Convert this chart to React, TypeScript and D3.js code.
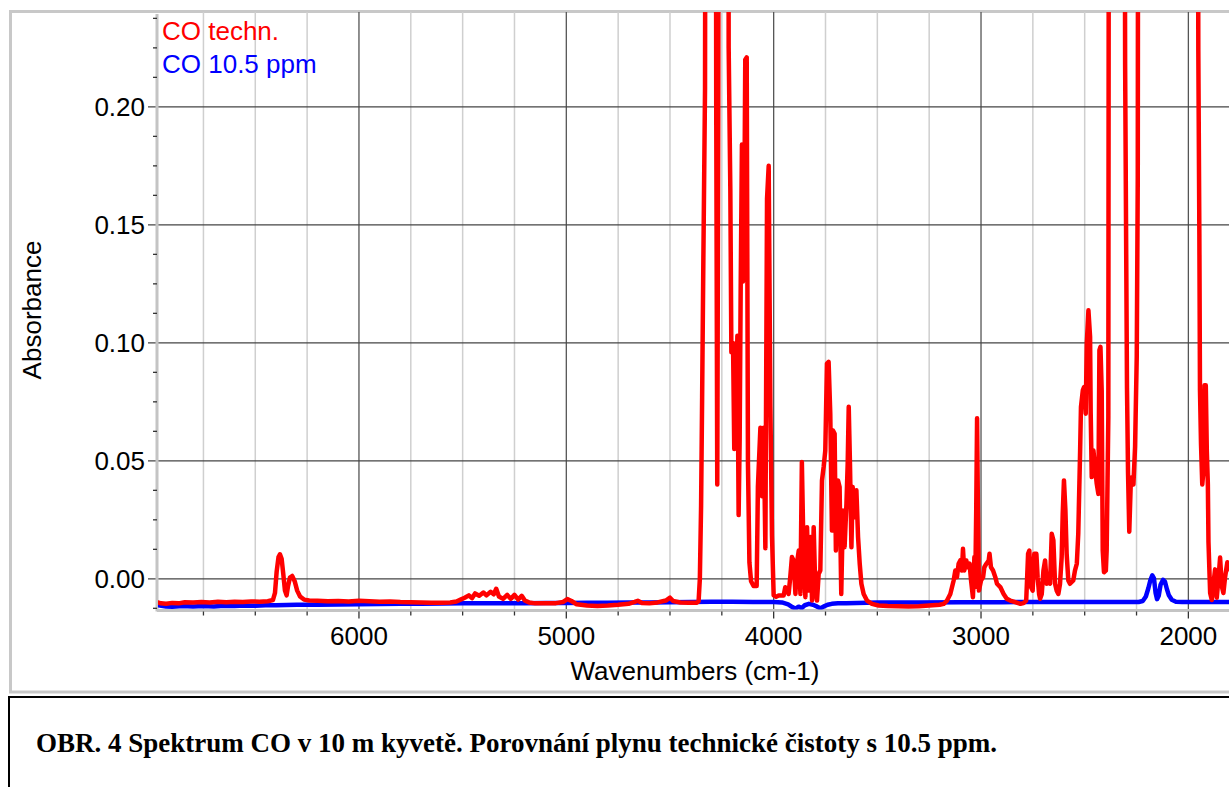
import React from 'react';
import * as d3 from 'd3';

const W = 1229;
const H = 787;

// axis ticks / labels
const xMajorTicks = [6000, 5000, 4000, 3000, 2000];
const xTickLabels = ['6000', '5000', '4000', '3000', '2000'];
const yMajorTicks = [0, 0.05, 0.1, 0.15, 0.2];
const yTickLabels = ['0.00', '0.05', '0.10', '0.15', '0.20'];
const xDomain = [6974, 1751];
const yDomain = [-0.013, 0.2402];
const legendLabels = ['CO techn.', 'CO 10.5 ppm'];
const seriesColors = ['#ff0000', '#0000ff'];
const xTitle = 'Wavenumbers (cm-1)';
const yTitle = 'Absorbance';
const caption = 'OBR. 4 Spektrum CO v 10 m kyvetě. Porovnání plynu technické čistoty s 10.5 ppm.';

// series: [wavenumber, absorbance]
const coTechn: [number, number][] = [
  [6970, -0.0100], [6955, -0.0104], [6930, -0.0106], [6900, -0.0102], [6870, -0.0104], [6840, -0.0099],
  [6800, -0.0100], [6760, -0.0098], [6720, -0.0100], [6680, -0.0097], [6640, -0.0099], [6600, -0.0097],
  [6560, -0.0098], [6520, -0.0096], [6480, -0.0097], [6440, -0.0095], [6415, -0.0090], [6405, -0.0060],
  [6397, 0.0030], [6388, 0.0092], [6381, 0.0104], [6373, 0.0085], [6365, 0.0020], [6357, -0.0050],
  [6349, -0.0070], [6342, -0.0030], [6333, 0.0005], [6322, 0.0012], [6310, -0.0010], [6298, -0.0050],
  [6284, -0.0075], [6265, -0.0088], [6240, -0.0092], [6200, -0.0093], [6150, -0.0095], [6100, -0.0094],
  [6050, -0.0096], [6000, -0.0093], [5950, -0.0095], [5900, -0.0097], [5850, -0.0096], [5800, -0.0098],
  [5750, -0.0099], [5700, -0.0100], [5650, -0.0101], [5600, -0.0101], [5560, -0.0100], [5530, -0.0096],
  [5510, -0.0088], [5490, -0.0080], [5470, -0.0070], [5455, -0.0082], [5440, -0.0062], [5420, -0.0072],
  [5400, -0.0058], [5385, -0.0070], [5365, -0.0055], [5350, -0.0066], [5338, -0.0042], [5325, -0.0075],
  [5305, -0.0085], [5285, -0.0068], [5268, -0.0085], [5250, -0.0068], [5232, -0.0088], [5215, -0.0072],
  [5200, -0.0092], [5180, -0.0100], [5150, -0.0104], [5100, -0.0104], [5050, -0.0103], [5015, -0.0098],
  [4995, -0.0086], [4975, -0.0094], [4950, -0.0108], [4900, -0.0113], [4850, -0.0115], [4800, -0.0113],
  [4750, -0.0110], [4700, -0.0106], [4670, -0.0098], [4655, -0.0093], [4635, -0.0102], [4600, -0.0104],
  [4560, -0.0100], [4520, -0.0092], [4500, -0.0080], [4485, -0.0094], [4450, -0.0100], [4410, -0.0101],
  [4370, -0.0101], [4362, -0.0095], [4356, 0.0000], [4350, 0.031], [4345, 0.077], [4339, 0.136],
  [4331, 0.208], [4325, 0.60], [4282, 0.60], [4277, 0.20], [4272, 0.040], [4267, 0.20], [4262, 0.60],
  [4222, 0.60], [4217, 0.225], [4209, 0.165], [4204, 0.096], [4196, 0.100], [4190, 0.055], [4182, 0.070],
  [4175, 0.103], [4169, 0.027], [4164, 0.059], [4159, 0.124], [4153, 0.184], [4148, 0.126], [4142, 0.150],
  [4137, 0.220], [4130, 0.221], [4124, 0.049], [4117, 0.007], [4109, -0.001], [4097, -0.003], [4082, -0.003],
  [4076, 0.039], [4064, 0.064], [4056, 0.035], [4048, 0.064], [4040, 0.013], [4032, 0.161], [4024, 0.175],
  [4016, 0.074], [4008, 0.018], [4000, -0.007], [3988, -0.0076], [3976, -0.0071], [3952, -0.0071],
  [3944, -0.0036], [3928, -0.0064], [3920, 0.0007], [3912, 0.0092], [3904, 0.0078], [3895, -0.0064],
  [3888, 0.0064], [3879, 0.0120], [3871, -0.0064], [3864, 0.0495], [3855, 0.0064], [3847, -0.0078],
  [3839, 0.0219], [3831, -0.0050], [3823, 0.0177], [3815, -0.0092], [3807, 0.0219], [3799, -0.0050],
  [3791, -0.0092], [3783, 0.0021], [3775, 0.0035], [3767, 0.0417], [3759, 0.0474], [3751, 0.0544],
  [3743, 0.0912], [3735, 0.0919], [3727, 0.0700], [3719, 0.0205], [3714, 0.0629], [3706, 0.0615],
  [3700, 0.0120], [3690, 0.0417], [3682, 0.0389], [3674, -0.0064], [3666, 0.0290], [3658, 0.0134],
  [3649, 0.0318], [3643, 0.0488], [3638, 0.0729], [3632, 0.0488], [3625, 0.0134], [3619, 0.0389],
  [3609, 0.0261], [3601, 0.0375], [3593, 0.0177], [3585, 0.0064], [3577, -0.0021], [3566, -0.0064],
  [3550, -0.0092], [3526, -0.0106], [3494, -0.0113], [3450, -0.0115], [3400, -0.0116], [3350, -0.0117],
  [3300, -0.0116], [3250, -0.0113], [3200, -0.0110], [3180, -0.0106], [3164, -0.0092], [3148, -0.0064],
  [3132, -0.0007], [3124, 0.0035], [3116, 0.0007], [3108, 0.0064], [3100, 0.0078], [3092, 0.0035],
  [3087, 0.0127], [3081, 0.0035], [3071, 0.0078], [3065, 0.0049], [3055, 0.0064], [3048, -0.0007],
  [3039, -0.0078], [3032, 0.0092], [3028, -0.0035], [3023, 0.030], [3019, 0.068], [3015, 0.030],
  [3010, -0.005], [3000, -0.0007], [2990, 0.0007], [2984, 0.0049], [2974, 0.0064], [2963, 0.0078],
  [2959, 0.0106], [2952, 0.0049], [2942, 0.0035], [2931, 0.0007], [2923, -0.0021], [2907, -0.0035],
  [2891, -0.0064], [2875, -0.0085], [2859, -0.0092], [2835, -0.0099], [2810, -0.0106], [2795, -0.0103],
  [2782, -0.0092], [2773, 0.0106], [2767, 0.0120], [2759, -0.0035], [2751, -0.0050], [2743, 0.0106],
  [2733, 0.0106], [2727, 0.0007], [2720, -0.0064], [2715, -0.0085], [2707, -0.0064], [2699, 0.0035],
  [2691, 0.0078], [2683, -0.0021], [2675, 0.0007], [2667, -0.0021], [2659, 0.0191], [2651, 0.0163],
  [2643, -0.0021], [2635, -0.0050], [2627, -0.0064], [2619, -0.0021], [2611, 0.0092], [2606, 0.0276],
  [2600, 0.0417], [2593, 0.0290], [2587, 0.0106], [2579, -0.0007], [2571, -0.0021], [2555, -0.0007],
  [2547, 0.0035], [2538, 0.0064], [2531, 0.0191], [2522, 0.0544], [2518, 0.0728], [2509, 0.0799],
  [2503, 0.0813], [2495, 0.0700], [2490, 0.0997], [2482, 0.1138], [2474, 0.1025], [2471, 0.0700],
  [2466, 0.0431], [2458, 0.0544], [2450, 0.0474], [2442, 0.0403], [2434, 0.0360], [2429, 0.0969],
  [2424, 0.0983], [2418, 0.0799], [2413, 0.0120], [2407, 0.0028], [2398, 0.0035], [2394, 0.0120],
  [2386, 0.0686], [2381, 0.60], [2313, 0.60], [2305, 0.218], [2300, 0.141], [2296, 0.081], [2291, 0.045],
  [2285, 0.020], [2278, 0.040], [2272, 0.043], [2265, 0.040], [2257, 0.056], [2249, 0.094], [2244, 0.170],
  [2239, 0.60], [1960, 0.60], [1952, 0.224], [1947, 0.146], [1944, 0.080], [1939, 0.057], [1933, 0.040],
  [1928, 0.045], [1922, 0.082], [1916, 0.082], [1911, 0.054], [1906, 0.040], [1903, 0.0155], [1895, -0.006],
  [1887, -0.009], [1879, -0.002], [1871, 0.004], [1863, -0.008], [1855, 0.000], [1847, 0.009], [1839, -0.003],
  [1831, -0.006], [1823, 0.0007], [1812, 0.007], [1804, 0.0056], [1790, 0.002], [1775, -0.004], [1760, 0.001],
];

const co10ppm: [number, number][] = [
  [6970, -0.0112], [6930, -0.0117], [6900, -0.0118], [6850, -0.0115], [6800, -0.0117], [6750, -0.0115],
  [6700, -0.0117], [6650, -0.0114], [6600, -0.0115], [6550, -0.0113], [6500, -0.0114], [6450, -0.0112],
  [6400, -0.0112], [6350, -0.0111], [6300, -0.0110], [6200, -0.0110], [6100, -0.0109], [6000, -0.0108],
  [5900, -0.0107], [5800, -0.0106], [5700, -0.0106], [5600, -0.0105], [5500, -0.0104], [5400, -0.0104],
  [5300, -0.0103], [5200, -0.0103], [5100, -0.0102], [5000, -0.0102], [4900, -0.0101], [4800, -0.0101],
  [4700, -0.0100], [4600, -0.0100], [4500, -0.0099], [4400, -0.0098], [4300, -0.0097], [4200, -0.0097],
  [4100, -0.0098], [4000, -0.0098], [3960, -0.0100], [3930, -0.0108], [3910, -0.0120], [3895, -0.0126],
  [3880, -0.0118], [3865, -0.0124], [3850, -0.0112], [3830, -0.0106], [3810, -0.0110], [3790, -0.0118],
  [3775, -0.0125], [3760, -0.0118], [3740, -0.0110], [3720, -0.0106], [3690, -0.0104], [3650, -0.0103],
  [3600, -0.0102], [3550, -0.0101], [3500, -0.0100], [3300, -0.0100], [3100, -0.0099], [2900, -0.0099],
  [2700, -0.0098], [2500, -0.0098], [2300, -0.0098], [2240, -0.0098], [2220, -0.0094], [2205, -0.0075],
  [2193, -0.0040], [2183, -0.0005], [2174, 0.0015], [2166, 0.0002], [2158, -0.0060], [2151, -0.0086],
  [2143, -0.0072], [2134, -0.0025], [2122, -0.0004], [2113, -0.0012], [2104, -0.0042], [2094, -0.0070],
  [2080, -0.0089], [2060, -0.0097], [2030, -0.0098], [2000, -0.0098], [1900, -0.0098], [1800, -0.0098],
  [1755, -0.0098],
];

const PL = 157;
const PR = 1240;
const PT = 12;
const PB = 609.5;

const FONT = '"Liberation Sans", Arial, sans-serif';
const FS = 26;

export default function App() {
  const x = d3.scaleLinear().domain(xDomain).range([PL, PR]);
  const y = d3.scaleLinear().domain(yDomain).range([PB, PT]);
  const line = d3
    .line<[number, number]>()
    .x((d) => x(d[0]))
    .y((d) => y(d[1]));

  const xMinor = d3.range(6750, 1749, -250).filter((v) => v % 1000 !== 0);
  const yMinor = d3
    .range(-1, 20)
    .map((i) => +(i * 0.0125).toFixed(4))
    .filter((v) => Math.abs(v / 0.05 - Math.round(v / 0.05)) > 1e-6);

  return (
    <div style={{ position: 'absolute', left: 0, top: 0 }}>
      <svg width={W} height={H} style={{ display: 'block', background: '#ffffff' }}>
        <defs>
          <clipPath id="plotclip">
            <rect x={PL + 1} y={PT} width={PR - PL} height={PB - PT} />
          </clipPath>
        </defs>
        <rect x={0} y={0} width={W} height={H} fill="#ffffff" />
        {/* outer chart frame */}
        <rect x={10.5} y={11.5} width={1300} height={680.5} fill="none" stroke="#c8c8c8" strokeWidth={3} />

        {/* minor vertical grid */}
        {xMinor.map((v) => (
          <line key={'gm' + v} x1={x(v)} x2={x(v)} y1={PT} y2={PB} stroke="#cfcfcf" strokeWidth={1.5} />
        ))}
        {/* major vertical grid */}
        {xMajorTicks.map((v) => (
          <line key={'gM' + v} x1={x(v)} x2={x(v)} y1={PT} y2={PB} stroke="#555555" strokeWidth={1.3} />
        ))}
        {/* horizontal grid */}
        {yMajorTicks.map((v) => (
          <line key={'gy' + v} x1={PL - 9} x2={PR} y1={y(v)} y2={y(v)} stroke="#444444" strokeWidth={1.3} />
        ))}

        {/* axes lines */}
        <line x1={PL} x2={PL} y1={PT + 2} y2={PB + 2} stroke="#c4c4c4" strokeWidth={3} />
        <line x1={PL} x2={PR} y1={PB + 1} y2={PB + 1} stroke="#c4c4c4" strokeWidth={3} />

        {/* y minor ticks */}
        {yMinor.map((v) => (
          <line key={'ym' + v} x1={PL - 4} x2={PL} y1={y(v)} y2={y(v)} stroke="#333333" strokeWidth={1.3} />
        ))}
        {/* x ticks */}
        {xMinor.map((v) => (
          <line key={'xm' + v} x1={x(v)} x2={x(v)} y1={PB + 2} y2={PB + 6} stroke="#333333" strokeWidth={1.3} />
        ))}
        {xMajorTicks.map((v) => (
          <line key={'xM' + v} x1={x(v)} x2={x(v)} y1={PB + 2} y2={PB + 9} stroke="#333333" strokeWidth={1.3} />
        ))}

        {/* series */}
        <g clipPath="url(#plotclip)">
          <path d={line(co10ppm) || ''} fill="none" stroke={seriesColors[1]} strokeWidth={4.5} strokeLinejoin="round" strokeLinecap="round" />
          <path d={line(coTechn) || ''} fill="none" stroke={seriesColors[0]} strokeWidth={4.5} strokeLinejoin="round" strokeLinecap="round" />
        </g>

        {/* tick labels */}
        {yMajorTicks.map((v, i) => (
          <text key={'yl' + v} x={145} y={y(v) + 9} textAnchor="end" fontFamily={FONT} fontSize={FS} fill="#000">
            {yTickLabels[i]}
          </text>
        ))}
        {xMajorTicks.map((v, i) => (
          <text key={'xl' + v} x={x(v)} y={645} textAnchor="middle" fontFamily={FONT} fontSize={FS} fill="#000">
            {xTickLabels[i]}
          </text>
        ))}

        {/* axis titles */}
        <text x={695} y={680} textAnchor="middle" fontFamily={FONT} fontSize={FS} fill="#000">
          {xTitle}
        </text>
        <text transform="translate(41,310) rotate(-90)" textAnchor="middle" fontFamily={FONT} fontSize={FS} fill="#000">
          {yTitle}
        </text>

        {/* legend */}
        {legendLabels.map((l, i) => (
          <text key={l} x={162} y={40 + i * 32.7} fontFamily={FONT} fontSize={FS} fill={seriesColors[i]}>
            {l}
          </text>
        ))}

        {/* caption box */}
        <rect x={9} y={697} width={1300} height={200} fill="none" stroke="#000" strokeWidth={2} />
        <text x={36} y={752} fontFamily='"Liberation Serif", "Times New Roman", serif' fontWeight="bold" fontSize={27} fill="#000">
          {caption}
        </text>
      </svg>
    </div>
  );
}
